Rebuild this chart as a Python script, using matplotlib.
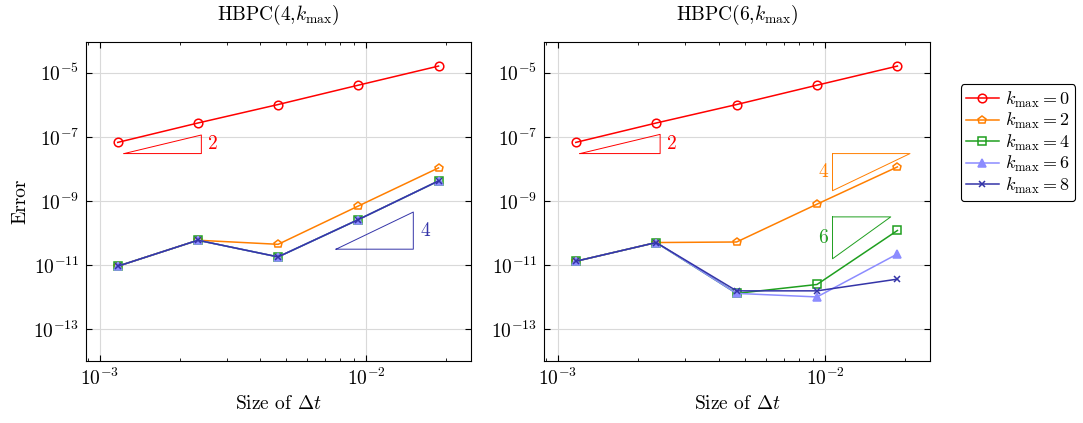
import numpy as np
import matplotlib
matplotlib.use('Agg')
import matplotlib.pyplot as plt
from matplotlib.ticker import LogLocator, NullLocator, NullFormatter

plt.rcParams['font.family'] = ['cmr10']
plt.rcParams['mathtext.fontset'] = 'cm'
plt.rcParams['axes.formatter.use_mathtext'] = True
plt.rcParams['font.size'] = 14

FS = 14

#%% data

dt = [1.167e-3, 2.333e-3, 4.667e-3, 9.333e-3, 1.867e-2]
kmax = [0, 2, 4, 6, 8]

# HBPC(4, kmax)
err4_k0 = [6.7e-8, 2.7e-7, 1.02e-6, 4.1e-6, 1.62e-5]
err4_k2 = [9.1e-12, 5.9e-11, 4.4e-11, 6.9e-10, 1.07e-8]
err4_k4 = [9.1e-12, 5.9e-11, 1.78e-11, 2.6e-10, 4.2e-9]
err4_k6 = [9.1e-12, 5.9e-11, 1.78e-11, 2.6e-10, 4.2e-9]
err4_k8 = [9.1e-12, 5.9e-11, 1.78e-11, 2.6e-10, 4.2e-9]

# HBPC(6, kmax)
err6_k0 = [6.7e-8, 2.7e-7, 1.02e-6, 4.1e-6, 1.62e-5]
err6_k2 = [1.3e-11, 5.0e-11, 5.2e-11, 7.9e-10, 1.15e-8]
err6_k4 = [1.3e-11, 5.0e-11, 1.29e-12, 2.45e-12, 1.19e-10]
err6_k6 = [1.3e-11, 5.0e-11, 1.29e-12, 1.0e-12, 2.2e-11]
err6_k8 = [1.3e-11, 5.0e-11, 1.55e-12, 1.55e-12, 3.6e-12]

y_ticks = [1e-13, 1e-11, 1e-9, 1e-7, 1e-5]

#%% styles

colors  = ['#ff0000', '#ff7f00', '#1f9f1f', '#8c8cff', '#3434a8']
markers = ['o', 'p', 's', '^', 'x']
faces   = ['none', 'none', 'none', '#8c8cff', '#3434a8']

def slope_triangle(ax, x0, y0, width, order, color, label, flip=False):
    # width in decades, order = slope
    x1 = x0* 10**width
    if not flip:
        y1 = y0* 10**(width*order)
        ax.plot([x0, x1, x1, x0], [y0, y1, y0, y0], color=color, lw=0.7)
        ax.text(x1*1.06, np.sqrt(y0*y1), label, color=color,
                ha='left', va='center', fontsize=FS)
    else:
        yb = y0/ 10**(width*order)
        ax.plot([x0, x1, x0, x0], [y0, y0, yb, y0], color=color, lw=0.7)
        ax.text(x0/1.04, np.sqrt(y0*yb), label, color=color,
                ha='right', va='center', fontsize=FS)

def setup(ax, title):
    ax.set_xscale('log')
    ax.set_yscale('log')
    ax.set_xlim(10**-3.052, 10**-1.607)
    ax.set_ylim(1e-14, 10**-4.04)
    ax.set_yticks(y_ticks)
    ax.yaxis.set_minor_locator(NullLocator())
    ax.xaxis.set_minor_locator(LogLocator(base=10, subs=np.arange(2, 10)))
    ax.xaxis.set_minor_formatter(NullFormatter())
    ax.grid(True, which='major', color='#d9d9d9', lw=0.8)
    ax.set_axisbelow(True)
    ax.tick_params(which='both', direction='in', top=True, right=True,
                   labelsize=FS)
    ax.tick_params(which='major', length=4, pad=5)
    ax.tick_params(which='minor', length=2.5)
    ax.set_title(title, fontsize=FS, pad=16)
    ax.set_xlabel(r'Size of $\Delta t$', fontsize=FS, labelpad=4)

#%% plotting

fig = plt.figure(figsize=(10.83, 4.23), dpi=100)
ax1 = fig.add_axes([0.0794, 0.1466, 0.3555, 0.754])
ax2 = fig.add_axes([0.5023, 0.1466, 0.3564, 0.754])

series4 = [err4_k0, err4_k2, err4_k4, err4_k6, err4_k8]
series6 = [err6_k0, err6_k2, err6_k4, err6_k6, err6_k8]

for ax, series in [(ax1, series4), (ax2, series6)]:
    for k, err, c, m, f in zip(kmax, series, colors, markers, faces):
        ax.plot(dt, err, color=c, marker=m, mfc=f, mec=c, ms=6.2 if m != 'x' else 5,
                mew=1.1, lw=1.1, label=r'$k_{\max} = %d$' % k)

setup(ax1, r'HBPC(4,$k_{\max}$)')
setup(ax2, r'HBPC(6,$k_{\max}$)')
ax1.set_ylabel('Error', fontsize=FS, labelpad=3)

slope_triangle(ax1, 1.233e-3, 3.0e-8, 0.29, 2, colors[0], '2')
slope_triangle(ax1, 7.7e-3, 3.1e-11, 0.29, 4, colors[4], '4')
slope_triangle(ax2, 1.21e-3, 3.0e-8, 0.30, 2, colors[0], '2')
slope_triangle(ax2, 1.067e-2, 3.0e-8, 0.29, 4, colors[1], '4', flip=True)
slope_triangle(ax2, 1.067e-2, 10**-9.5, 0.218, 6, colors[2], '6', flip=True)

leg = ax2.legend(loc='upper left', bbox_to_anchor=(0.887, 0.801),
                 bbox_transform=fig.transFigure, fontsize=13,
                 handlelength=1.8, frameon=True, fancybox=True,
                 edgecolor='black', framealpha=1, borderpad=0.3,
                 labelspacing=0.08, handletextpad=0.35, borderaxespad=0)
leg.get_frame().set_linewidth(0.8)

plt.savefig('out.png', dpi=100)
